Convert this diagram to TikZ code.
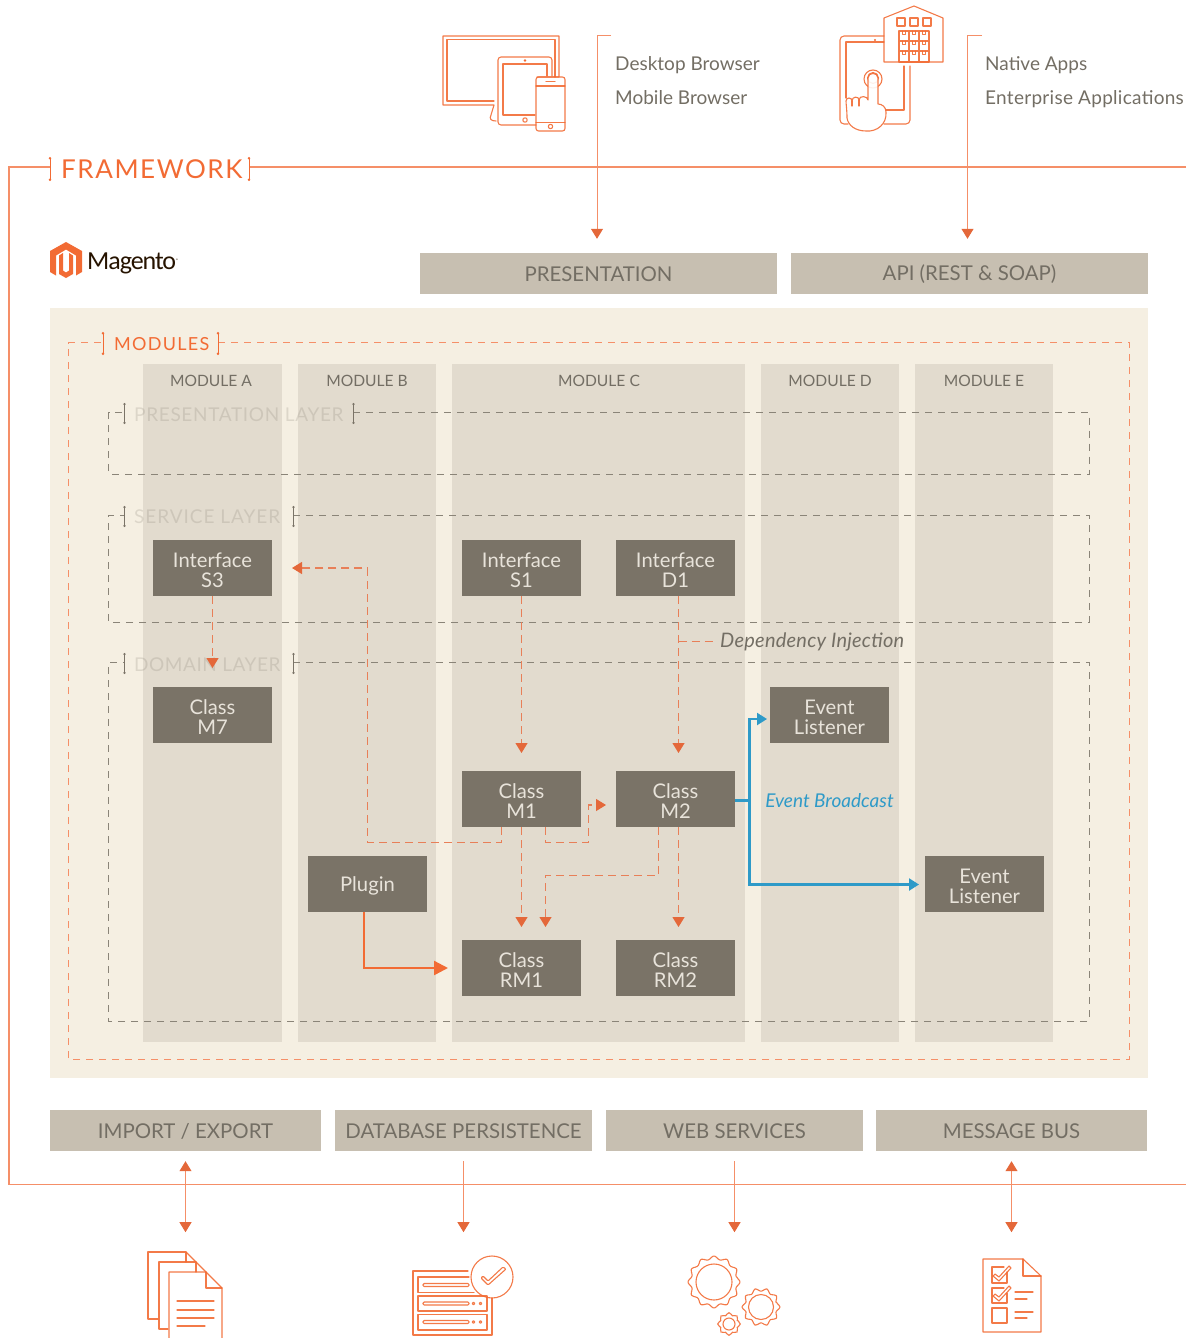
\documentclass[tikz,border=0pt]{standalone}
\usepackage{fontspec}
\setmainfont{Lato}
\newfontfamily\logofont{Carlito}
\usetikzlibrary{arrows.meta,calc}
\definecolor{orA}{HTML}{F26B34}
\definecolor{orL}{HTML}{F58F68}
\definecolor{orD}{HTML}{E4683A}
\definecolor{bgP}{HTML}{F5EFE2}
\definecolor{colP}{HTML}{E2DBCE}
\definecolor{barP}{HTML}{C7BFB1}
\definecolor{boxP}{HTML}{7A7367}
\definecolor{boxT}{HTML}{E8E3DA}
\definecolor{txtP}{HTML}{736E64}
\definecolor{dashG}{HTML}{8A8478}
\definecolor{blu}{HTML}{2E9AC8}
\newcommand\fsz[1]{\fontsize{#1}{#1}\selectfont}
\newcommand\pad{\rule{0pt}{19.5pt}}
\tikzset{
  colbox/.style={fill=colP,draw=none,minimum height=678pt,inner sep=0pt},
  collabel/.style={text=txtP,font=\fsz{15.6},inner sep=0pt,anchor=center},
  barbox/.style={fill=barP,draw=none,minimum height=41pt,inner sep=0pt,text=txtP,font=\fsz{20.4},execute at begin node={\rule{0pt}{16.5pt}}},
  darkbox/.style={fill=boxP,draw=none,minimum width=119pt,minimum height=56pt,inner sep=0pt,text=boxT,align=center,font=\fsz{20.2}},
  oneline/.style={darkbox,execute at begin node={\rule{0pt}{18.5pt}}},
  sidelabel/.style={text=txtP,font=\fsz{19},anchor=base west,inner sep=0pt},
  layerlabel/.style={text=boxP,text opacity=.2,anchor=west,inner sep=0pt},
  tip/.style={-{Triangle[width=12pt,length=10pt,color=orD]}},
  duo/.style={{Triangle[width=12pt,length=10pt,color=orD]}-{Triangle[width=12pt,length=10pt,color=orD]}},
  solidflow/.style={draw=orL,line width=1pt},
  dashflow/.style={draw=orD!85!white,line width=1.2pt,dash pattern=on 8pt off 5pt},
  frameline/.style={draw=orL,line width=1.1pt},
  modframe/.style={draw=orL,line width=.9pt,dash pattern=on 7pt off 6pt},
  layerframe/.style={draw=dashG,line width=.9pt,dash pattern=on 7pt off 6pt},
  orangetick/.style={draw=orA,line width=1pt,{Circle[length=2.4pt,color=orA]}-{Circle[length=2.4pt,color=orA]}},
  greytick/.style={draw=boxP,line width=.9pt,{Circle[length=2.2pt,color=boxP]}-{Circle[length=2.2pt,color=boxP]}},
  icon/.style={draw=orA,line width=1.1pt,line join=round,line cap=round,opacity=.9},
}
\newcommand\gearicon[6]{%
  \begin{scope}[shift={(#1,#2)}]
  \draw[icon] (0,0) circle[radius=#3];
  \pgfmathsetmacro\stp{360/#6}
  \draw[icon,rounded corners=1.5pt] (-.3*\stp:#4)
    \foreach \i in {1,...,#6}{
      -- ({(\i-1)*\stp-.3*\stp}:#4) -- ({(\i-1)*\stp-.16*\stp}:#5) -- ({(\i-1)*\stp+.16*\stp}:#5) -- ({(\i-1)*\stp+.3*\stp}:#4)
    } -- cycle;
  \end{scope}}
\begin{document}
\begin{tikzpicture}[x=1pt,y=-1pt]
\useasboundingbox (0,0) rectangle (1186,1338);
% module panel
\node[fill=bgP,minimum width=1098pt,minimum height=770pt,inner sep=0pt] (panel) at (599,693) {};
\node[colbox,minimum width=139pt] (colA) at (212.5,703) {};
\node[colbox,minimum width=138pt] (colB) at (367,703) {};
\node[colbox,minimum width=293pt] (colC) at (598.5,703) {};
\node[colbox,minimum width=138pt] (colD) at (830,703) {};
\node[colbox,minimum width=138pt] (colE) at (984,703) {};
\node[collabel] (lA) at (211,381) {MODULE A};
\node[collabel] (lB) at (367,381) {MODULE B};
\node[collabel] (lC) at (599,381) {MODULE C};
\node[collabel] (lD) at (830,381) {MODULE D};
\node[collabel] (lE) at (984,381) {MODULE E};
% framework frame
\draw[frameline] (1186,167) -- (249,167);
\draw[frameline] (50,167) -- (9,167) -- (9,1184.5) -- (1186,1184.5);
\draw[orangetick] (50,157) -- (50,181);
\draw[orangetick] (249,157) -- (249,181);
\node[text=orA,anchor=west,inner sep=0pt,font={\fsz{26}\addfontfeature{LetterSpace=6}}] (fw) at (61,169) {FRAMEWORK};
% modules frame
\draw[modframe] (218,342.5) -- (1129.5,342.5) -- (1129.5,1059.5) -- (68.5,1059.5) -- (68.5,342.5) -- (103,342.5);
\draw[orangetick] (103,332) -- (103,355);
\draw[orangetick] (218,332) -- (218,355);
\node[text=orA,anchor=west,inner sep=0pt,font={\fsz{18}\addfontfeature{LetterSpace=7}}] (mods) at (114,344) {MODULES};
% layers
\draw[layerframe] (353,412.5) -- (1089,412.5) -- (1089,474) -- (108.5,474) -- (108.5,412.5) -- (124,412.5);
\draw[greytick] (124.5,403) -- (124.5,424);
\draw[greytick] (353.5,403) -- (353.5,424);
\node[layerlabel,font={\fsz{19}\addfontfeature{LetterSpace=3.5}}] (lpres) at (134,415) {PRESENTATION LAYER};
\draw[layerframe] (293,515) -- (1089,515) -- (1089,622) -- (108.5,622) -- (108.5,515) -- (124,515);
\draw[greytick] (124.5,506) -- (124.5,527);
\draw[greytick] (293.5,506) -- (293.5,527);
\node[layerlabel,font={\fsz{19}\addfontfeature{LetterSpace=5}}] (lserv) at (134,517) {SERVICE LAYER};
\draw[layerframe] (293,662) -- (1089,662) -- (1089,1021) -- (108.5,1021) -- (108.5,662) -- (124,662);
\draw[greytick] (124.5,653) -- (124.5,674);
\draw[greytick] (293.5,653) -- (293.5,674);
\node[layerlabel,font={\fsz{19}\addfontfeature{LetterSpace=2.8}}] (ldom) at (134,665) {DOMAIN LAYER};
% bars
\node[barbox,minimum width=357pt] (pres) at (598.5,273.5) {PRESENTATION};
\node[barbox,minimum width=357pt] (api) at (969.5,273.5) {API (REST \& SOAP)};
\node[barbox,minimum width=271pt] (imp) at (185.5,1130.5) {IMPORT / EXPORT};
\node[barbox,minimum width=257pt] (db) at (463.5,1130.5) {DATABASE PERSISTENCE};
\node[barbox,minimum width=257pt] (web) at (734.5,1130.5) {WEB SERVICES};
\node[barbox,minimum width=271pt] (bus) at (1011.5,1130.5) {MESSAGE BUS};
% dark boxes
\node[darkbox] (s3) at (212.5,568) {\pad Interface\\S3};
\node[darkbox] (s1) at (521.5,568) {\pad Interface\\S1};
\node[darkbox] (d1) at (675.5,568) {\pad Interface\\D1};
\node[darkbox] (m7) at (212.5,715) {\pad Class\\M7};
\node[darkbox] (el1) at (829.5,715) {\pad Event\\Listener};
\node[darkbox] (m1) at (521.5,799) {\pad Class\\M1};
\node[darkbox] (m2) at (675.5,799) {\pad Class\\M2};
\node[oneline] (plug) at (367.5,884) {Plugin};
\node[darkbox] (el2) at (984.5,884) {\pad Event\\Listener};
\node[darkbox] (rm1) at (521.5,968) {\pad Class\\RM1};
\node[darkbox] (rm2) at (675.5,968) {\pad Class\\RM2};
% side labels
\node[sidelabel] (t1) at (615,70.5) {Desktop Browser};
\node[sidelabel] (t2) at (615,104.5) {Mobile Browser};
\node[sidelabel] (t3) at (985,70.5) {Native Apps};
\node[sidelabel,font={\fsz{19}\addfontfeature{LetterSpace=1.5}}] (t4) at (985,104.5) {Enterprise Applications};
\node[anchor=west,inner sep=0pt,text=txtP,font={\fsz{20}\itshape\addfontfeature{LetterSpace=1.2}}] (di) at (720,642) {Dependency Injection};
\node[anchor=center,inner sep=0pt,text=blu,font=\fsz{19}\itshape] (eb) at (829.5,801) {Event Broadcast};
% top connectors
\coordinate (pa) at (611,35.5); \coordinate (pb) at (597,35.5);
\coordinate (aa) at (982,35.5); \coordinate (ab) at (967.5,35.5);
\coordinate (pt) at ([xshift=-1.5pt,yshift=14pt]pres.north);
\coordinate (at) at ([xshift=-2pt,yshift=14pt]api.north);
\draw[solidflow,tip] (pa) -- (pb) -- (pb |- pt);
\draw[solidflow,tip] (aa) -- (ab) -- (ab |- at);
% bottom connectors
\foreach \n/\st in {imp/duo,bus/duo,db/tip,web/tip}{
  \coordinate (\n t) at ([yshift=-10pt]\n.south);
  \coordinate (\n b) at ([yshift=-81pt]\n.south);
  \draw[solidflow,\st] (\n t) -- (\n b);
}
% dashed connectors
\coordinate (s3d) at (212.5,668);
\coordinate (s1d) at (521.5,753);
\coordinate (d1d) at (678.5,753);
\coordinate (rm1a) at (521.5,927);
\coordinate (rm1b) at (545.5,927);
\coordinate (rm2a) at (678.5,927);
\coordinate (s3in) at (292,568);
\coordinate (r1) at (367.5,842.5); \coordinate (r2) at (367.5,568);
\coordinate (r3) at (545.5,842.5); \coordinate (r4) at (588.5,842.5); \coordinate (r5) at (588.5,805); \coordinate (r6) at (606,805);
\coordinate (r7) at (658.5,875.5); \coordinate (r8) at (545.5,875.5);
\coordinate (dia) at (678.5,641.5); \coordinate (dib) at (713,641.5);
\draw[dashflow,tip] (s3.south) -- (s3d);
\draw[dashflow,tip] (s1.south) -- (s1d);
\draw[dashflow,tip] ([xshift=3pt]d1.south) -- (d1d);
\draw[dashflow] (dia) -- (dib);
\draw[dashflow,tip] (m1.south) -- (rm1a);
\draw[dashflow,tip] ([xshift=-20pt]m1.south) |- (r1) -- (r2) -- (s3in);
\draw[dashflow,tip] ([xshift=24pt]m1.south) -- (r3) -- (r4) -- (r5) -- (r6);
\draw[dashflow,tip] ([xshift=-17pt]m2.south) -- (r7) -- (r8) -- (rm1b);
\draw[dashflow,tip] ([xshift=3pt]m2.south) -- (rm2a);
% plugin and event arrows
\coordinate (pl1) at ([xshift=-3.5pt]plug.south); \coordinate (pl2) at (364,968); \coordinate (pl3) at (448,968);
\draw[draw=orA,line width=2.4pt,-{Triangle[width=14pt,length=14pt,color=orA]}] (pl1) -- (pl2) -- (pl3);
\coordinate (e0) at (749.5,800.5); \coordinate (e1) at (749.5,719); \coordinate (e2) at (767,719); \coordinate (e3) at (749.5,884.5); \coordinate (e4) at (919,884.5);
\draw[draw=blu,line width=2.2pt] (m2.east |- e0) -- (e0);
\draw[draw=blu,line width=2.2pt,-{Triangle[width=12pt,length=10pt,color=blu]}] (e0) -- (e1) -- (e2);
\draw[draw=blu,line width=2.2pt,-{Triangle[width=12pt,length=10pt,color=blu]}] (e0) -- (e3) -- (e4);
% Magento logo
\fill[orA] (66,242) -- (82,251) -- (82,272) -- (76,275.5) -- (76,255.5) -- (66,249.5) -- (56,255.5) -- (56,275.5) -- (50,272) -- (50,251) -- cycle;
\fill[orA] (59,255.5) -- (63,253) -- (63,270.5) -- (66,272.5) -- (69,270.5) -- (69,253) -- (73,255.5) -- (73,274) -- (66,278) -- (59,274) -- cycle;
\node[anchor=base west,inner sep=0pt,text=black!85!orange,font={\logofont\fsz{26}\addfontfeature{LetterSpace=-4}}] (logo) at (87,269) {Magento\raisebox{7pt}{\fsz{5}®}};
% devices icon
\draw[icon] (537,77) -- (559,77) -- (559,36) -- (443,36) -- (443,105) -- (494,105) -- (491,115) .. controls (489,119) and (491,121) .. (496,121);
\draw[icon] (555,77) -- (555,39.5) -- (447,39.5) -- (447,101) -- (494,101);
\draw[icon,rounded corners=3pt] (536,125) -- (498,125) -- (498,57) -- (552,57) -- (552,76);
\draw[icon] (535,115) -- (503,115) -- (503,64) -- (547,64) -- (547,76);
\fill[orA] (525,60.5) circle[radius=1.3];
\draw[icon] (525,120) circle[radius=2.2];
\draw[icon,rounded corners=2.5pt] (536,77) rectangle (565,131);
\draw[icon] (536,86) -- (565,86) (536,122.5) -- (565,122.5) (546,81.5) -- (555,81.5);
\draw[icon] (550.5,126.5) circle[radius=2.2];
% app icon
\draw[icon,rounded corners=4pt] (884,36) -- (840,36) -- (840,124) -- (848,124);
\draw[icon] (884,42) -- (846,42) -- (846,98);
\draw[icon,rounded corners=4pt] (910,66) -- (910,124) -- (884,124);
\draw[icon] (904,66) -- (904,110) -- (886,110);
\fill[orA] (875,40) circle[radius=1.1];
\draw[icon] (884,62) -- (884,18) -- (914,6) -- (943,18) -- (943,62) -- cycle;
\draw[icon] (897,18) rectangle (905,26) (910,18) rectangle (918,26) (923,18) rectangle (931,26);
\draw[icon] (899,31) rectangle (929,62) (909,31) -- (909,62) (919,31) -- (919,62) (899,41) -- (929,41) (899,51) -- (929,51);
\foreach \yy in {31,41,51}{\draw[icon,line width=.8pt] (902,\yy) -- (902,\yy+3) -- (905,\yy+3) -- (905,\yy) (912,\yy) -- (912,\yy+3) -- (915,\yy+3) -- (915,\yy) (922,\yy) -- (922,\yy+3) -- (925,\yy+3) -- (925,\yy);}
\draw[icon] (873,78) circle[radius=5.5] ;
\draw[icon] (873,79) circle[radius=9];
\draw[fill=white,icon] (847,118) .. controls (847,110) and (846,104) .. (846,101) .. controls (846,97) and (852,97) .. (852,101)
 .. controls (852,96) and (859,96) .. (859,100) .. controls (859,95) and (868,96) .. (868,100) -- (868,78) .. controls (868,72) and (878,72) .. (878,78) -- (878,104)
 .. controls (882,104) and (886,107) .. (886,112) .. controls (887,124) and (877,132) .. (866,131) .. controls (855,131) and (848,125) .. (847,118) -- cycle;
\draw[icon] (852,101) -- (852,106) (859,100) -- (859,106);
% documents icon
\draw[icon] (186,1262) -- (186,1252) -- (148,1252) -- (148,1319) -- (158,1319);
\draw[icon] (186,1252) -- (196,1262);
\draw[icon] (196,1272) -- (196,1262) -- (159,1262) -- (159,1329) -- (168,1329);
\draw[icon] (196,1262) -- (206,1272);
\draw[icon] (169,1338) -- (169,1272) -- (206,1272) -- (222,1288) -- (222,1338);
\draw[icon] (206,1272) -- (206,1288) -- (222,1288);
\draw[icon] (177,1301) -- (214,1301) (177,1310) -- (214,1310) (177,1318) -- (214,1318) (177,1326) -- (205,1326);
% server icon
\draw[icon] (468,1271) -- (413,1271) -- (413,1335) -- (492,1335) -- (492,1298);
\draw[icon] (469,1277) -- (418,1277) -- (418,1292.5) -- (474,1292.5);
\draw[icon] (480,1296) -- (487,1296) -- (487,1311) -- (418,1311) -- (418,1296) -- (480,1296);
\draw[icon] (418,1314.5) rectangle (487,1330);
\foreach \yy in {1285,1303.5,1322}{\draw[icon,rounded corners=1.2pt] (423,\yy-1.5) rectangle (469,\yy+1.5);}
\foreach \yy in {1303.5,1322}{\draw[icon] (473.5,\yy) circle[radius=1.3] (480.5,\yy) circle[radius=1.3];}
\draw[icon] (492,1277) circle[radius=21];
\draw[icon,rounded corners=1pt] (481,1278) -- (488,1285) -- (506,1269) -- (503,1267) -- (488,1281) -- (483,1276) -- cycle;
% gears icon
\gearicon{714}{1282}{18}{23}{26}{12}
\gearicon{761}{1307}{12.5}{16}{19}{10}
\gearicon{729}{1324}{6}{9}{11.5}{8}
% checklist icon
\draw[icon] (983,1259) -- (1023,1259) -- (1041,1276) -- (1041,1332) -- (983,1332) -- cycle;
\draw[icon] (1023,1259) -- (1023,1276) -- (1041,1276);
\draw[icon] (1007,1272) -- (1007,1283) -- (992,1283) -- (992,1267) -- (1004,1267);
\draw[icon] (1007,1293) -- (1007,1303) -- (992,1303) -- (992,1288) -- (1004,1288);
\draw[icon] (992,1308) rectangle (1007,1323);
\foreach \yy in {1276,1296}{\draw[icon] (993,\yy) -- (995,\yy-2) -- (999,\yy+1) -- (1009,\yy-10) -- (1011,\yy-8) -- (999,\yy+5) -- cycle;}
\draw[icon] (1015,1292) -- (1033,1292) (1015,1299) -- (1027,1299) (1015,1312) -- (1033,1312) (1015,1318) -- (1027,1318);
\end{tikzpicture}
\end{document}
